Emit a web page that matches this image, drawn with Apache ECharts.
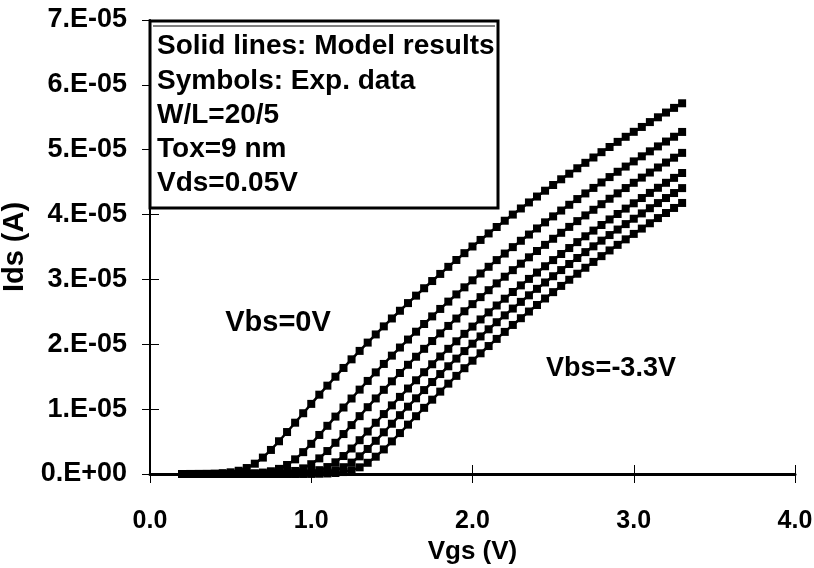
<!DOCTYPE html>
<html>
<head>
<meta charset="utf-8">
<script src="https://cdn.jsdelivr.net/npm/echarts@6/dist/echarts.min.js"></script>
<style>
html,body{margin:0;padding:0;background:#fff;}
#chart{width:814px;height:568px;}
</style>
</head>
<body>
<div id="chart"></div>
<script>
// Gate voltage (V)
const vgs = [0.20,0.25,0.30,0.35,0.40,0.45,0.50,0.55,0.60,0.65,0.70,0.75,0.80,0.85,0.90,0.95,
  1.00,1.05,1.10,1.15,1.20,1.25,1.30,1.35,1.40,1.45,1.50,1.55,1.60,1.65,1.70,1.75,1.80,1.85,1.90,1.95,
  2.00,2.05,2.10,2.15,2.20,2.25,2.30,2.35,2.40,2.45,2.50,2.55,2.60,2.65,2.70,2.75,2.80,2.85,2.90,2.95,
  3.00,3.05,3.10,3.15,3.20,3.25,3.30];

// Drain current in units of 1E-05 A, one array per body bias (Vbs = 0 ... -3.3 V)
const ids_vbs1 = [0.000,0.001,0.002,0.003,0.006,0.013,0.026,0.050,0.092,0.159,0.253,0.371,0.505,0.647,0.791,0.937,
  1.081,1.223,1.362,1.500,1.635,1.768,1.898,2.026,2.152,2.276,2.398,2.517,2.635,2.750,2.864,2.975,3.085,3.194,3.300,3.405,
  3.508,3.609,3.709,3.808,3.905,4.000,4.094,4.187,4.278,4.368,4.456,4.544,4.630,4.714,4.798,4.880,4.962,5.042,5.121,5.199,
  5.276,5.351,5.426,5.500,5.573,5.645,5.716];
const ids_vbs2 = [0.000,0.000,0.000,0.000,0.000,0.001,0.001,0.003,0.005,0.011,0.022,0.042,0.079,0.139,0.226,0.337,
  0.465,0.602,0.743,0.885,1.025,1.164,1.301,1.435,1.567,1.697,1.825,1.950,2.073,2.194,2.313,2.430,2.545,2.658,2.769,2.878,
  2.986,3.091,3.195,3.298,3.399,3.498,3.596,3.692,3.786,3.880,3.972,4.062,4.151,4.239,4.326,4.411,4.495,4.578,4.660,4.740,
  4.820,4.898,4.975,5.051,5.126,5.200,5.274];
const ids_vbs3 = [0.000,0.000,0.000,0.000,0.000,0.000,0.000,0.000,0.001,0.002,0.003,0.006,0.012,0.024,0.047,0.087,
  0.151,0.241,0.354,0.481,0.616,0.754,0.892,1.030,1.165,1.298,1.429,1.557,1.684,1.808,1.930,2.050,2.168,2.283,2.397,2.509,
  2.619,2.727,2.834,2.939,3.042,3.143,3.243,3.341,3.438,3.533,3.627,3.719,3.810,3.899,3.987,4.074,4.160,4.244,4.327,4.409,
  4.490,4.570,4.648,4.726,4.802,4.877,4.951];
const ids_vbs4 = [0.000,0.000,0.000,0.000,0.000,0.000,0.000,0.000,0.000,0.000,0.000,0.001,0.002,0.004,0.008,0.016,
  0.031,0.059,0.107,0.180,0.277,0.393,0.521,0.655,0.790,0.924,1.058,1.189,1.318,1.445,1.569,1.692,1.812,1.930,2.046,2.161,
  2.273,2.383,2.492,2.598,2.703,2.806,2.908,3.008,3.106,3.203,3.298,3.392,3.484,3.575,3.665,3.753,3.839,3.925,4.009,4.092,
  4.174,4.255,4.334,4.413,4.490,4.566,4.641];
const ids_vbs5 = [0.000,0.000,0.000,0.000,0.000,0.000,0.000,0.000,0.000,0.000,0.000,0.000,0.000,0.001,0.002,0.004,
  0.008,0.015,0.031,0.058,0.105,0.176,0.272,0.386,0.512,0.643,0.775,0.907,1.038,1.167,1.294,1.418,1.541,1.661,1.779,1.895,
  2.009,2.121,2.231,2.340,2.446,2.551,2.654,2.755,2.855,2.953,3.049,3.144,3.238,3.330,3.421,3.510,3.598,3.684,3.769,3.853,
  3.936,4.018,4.098,4.177,4.255,4.332,4.408];
const ids_vbs6 = [0.000,0.000,0.000,0.000,0.000,0.000,0.000,0.000,0.000,0.000,0.000,0.000,0.000,0.000,0.000,0.001,
  0.002,0.004,0.008,0.015,0.030,0.057,0.103,0.173,0.267,0.379,0.503,0.631,0.761,0.891,1.020,1.146,1.270,1.393,1.513,1.631,
  1.747,1.861,1.973,2.083,2.191,2.298,2.402,2.505,2.606,2.706,2.804,2.900,2.995,3.088,3.180,3.270,3.359,3.447,3.533,3.618,
  3.702,3.784,3.866,3.946,4.024,4.102,4.179];

const curves = [ids_vbs1, ids_vbs2, ids_vbs3, ids_vbs4, ids_vbs5, ids_vbs6];

const xTickLabels = ['0.0','1.0','2.0','3.0','4.0'];
const yTickLabels = ['0.E+00','1.E-05','2.E-05','3.E-05','4.E-05','5.E-05','6.E-05','7.E-05'];
const boxLines = ['Solid lines: Model results','Symbols: Exp. data','W/L=20/5','Tox=9 nm','Vds=0.05V'];
const curveLabels = ['Vbs=0V','Vbs=-3.3V'];

const FONT = "'Liberation Sans', Arial, Helvetica, sans-serif";
const chart = echarts.init(document.getElementById('chart'), null, {renderer:'canvas'});

const baseX = {type:'value', min:0, max:4, interval:1, gridIndex:0, position:'bottom',
  splitLine:{show:false}};
const baseY = {type:'value', min:0, max:7, interval:1, gridIndex:0, position:'left',
  splitLine:{show:false}};

const series = curves.map((c, k) => ({
  type:'line',
  name:'Vbs'+k,
  xAxisIndex:0, yAxisIndex:0,
  data: vgs.map((v,i) => [v, c[i]]),
  symbol:'rect', symbolSize:8, showSymbol:true, showAllSymbol:true,
  clip:false, silent:true, smooth:false,
  lineStyle:{color:'#000', width:2.5},
  itemStyle:{color:'#000'},
  z:3
}));

const graphics = [
  {type:'rect', shape:{x:150, y:21, width:348, height:187}, style:{fill:'#fff', stroke:'#000', lineWidth:3}, z:1},
  {type:'line', shape:{x1:153, y1:26, x2:495, y2:26}, style:{stroke:'#000', lineWidth:1}, z:1}
];
boxLines.forEach((t, i) => {
  graphics.push({type:'text', left:157, top:32.5 + i*34.3, z:2,
    style:{text:t, font:"bold 28px " + FONT, fill:'#000'}});
});
graphics.push({type:'text', x:278, y:323, z:2,
  style:{text:curveLabels[0], font:"bold 29px " + FONT, fill:'#000', align:'center', verticalAlign:'middle'}});
graphics.push({type:'text', x:611, y:369, z:2,
  style:{text:curveLabels[1], font:"bold 27px " + FONT, fill:'#000', align:'center', verticalAlign:'middle'}});

chart.setOption({
  animation:false,
  backgroundColor:'#fff',
  grid:{left:150, right:19, top:20, bottom:94, containLabel:false, outerBoundsMode:'none'},
  xAxis:[
    Object.assign({}, baseX, {
      name:'Vgs (V)', nameLocation:'middle', nameGap:64,
      nameTextStyle:{fontFamily:FONT, fontWeight:'bold', fontSize:26, color:'#000'},
      axisLine:{show:true, lineStyle:{color:'#000', width:3}},
      axisTick:{show:true, inside:false, length:9, lineStyle:{color:'#000', width:1}},
      axisLabel:{show:true, margin:35, fontFamily:FONT, fontWeight:'bold', fontSize:25, color:'#000',
        formatter:(v)=>xTickLabels[Math.round(v)]}
    }),
    Object.assign({}, baseX, {
      axisLine:{show:false},
      axisTick:{show:true, inside:true, length:9, lineStyle:{color:'#000', width:1}},
      axisLabel:{show:false}
    })
  ],
  yAxis:[
    Object.assign({}, baseY, {
      name:'Ids (A)', nameLocation:'middle', nameGap:111,
      nameTextStyle:{fontFamily:FONT, fontWeight:'bold', fontSize:29, color:'#000'},
      axisLine:{show:true, lineStyle:{color:'#000', width:2}},
      axisTick:{show:true, inside:false, length:8, lineStyle:{color:'#000', width:1}},
      axisLabel:{show:true, margin:23, fontFamily:FONT, fontWeight:'bold', fontSize:27, color:'#000',
        formatter:(v)=>yTickLabels[Math.round(v)]}
    }),
    Object.assign({}, baseY, {
      axisLine:{show:false},
      axisTick:{show:true, inside:true, length:9, lineStyle:{color:'#000', width:1}},
      axisLabel:{show:false}
    })
  ],
  graphic: graphics,
  series: series
});
</script>
</body>
</html>
